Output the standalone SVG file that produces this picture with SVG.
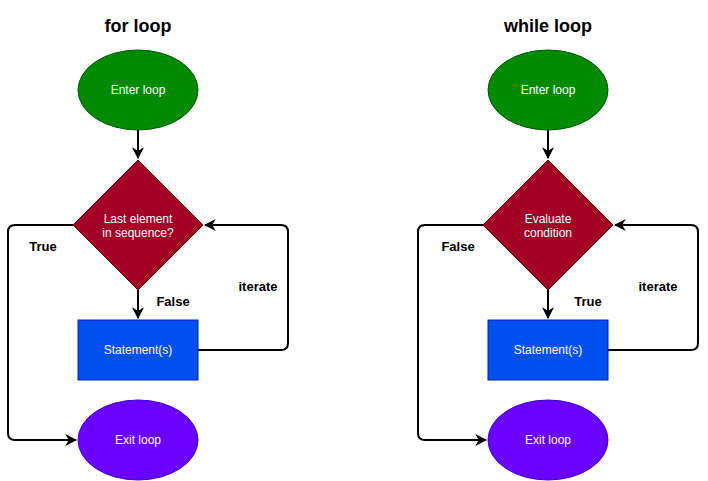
<svg xmlns="http://www.w3.org/2000/svg" width="708" height="481" viewBox="0 0 708 481">
<style>
.t{font-family:"Liberation Sans",Arial,sans-serif;font-size:12px;fill:#fff;text-anchor:middle}
.h{font-family:"Liberation Sans",Arial,sans-serif;font-size:18px;font-weight:bold;fill:#000;text-anchor:middle}
.l{font-family:"Liberation Sans",Arial,sans-serif;font-size:13px;font-weight:bold;fill:#000;text-anchor:middle}
.c{fill:none;stroke:#000;stroke-width:2;stroke-linejoin:round}
.enter{fill:#008a00;stroke:#005700}
.dec{fill:#a20025;stroke:#6f0000}
.st{fill:#0050ef;stroke:#001dbc}
.ex{fill:#6a00ff;stroke:#3700cc}
</style>
<defs>
<marker id="a" viewBox="0 0 10 10" refX="9" refY="5" markerWidth="6" markerHeight="6" orient="auto" markerUnits="strokeWidth">
<path d="M0,0 L10,5 L0,10 L3,5 Z" fill="#000"/>
</marker>
</defs>
<text class="h" x="138" y="32">for loop</text>
<text class="h" x="548" y="32">while loop</text>
<g id="connectors">
<path class="c" d="M138,130 V158" marker-end="url(#a)"/>
<path class="c" d="M138,290 V318" marker-end="url(#a)"/>
<path class="c" d="M198,350 H281 Q288,350 288,343 V232 Q288,225 281,225 H205" marker-end="url(#a)"/>
<path class="c" d="M73,225 H15 Q8,225 8,232 V433 Q8,440 15,440 H76" marker-end="url(#a)"/>
<path class="c" d="M548,130 V158" marker-end="url(#a)"/>
<path class="c" d="M548,290 V318" marker-end="url(#a)"/>
<path class="c" d="M608,350 H691 Q698,350 698,343 V232 Q698,225 691,225 H615" marker-end="url(#a)"/>
<path class="c" d="M483,225 H425 Q418,225 418,232 V433 Q418,440 425,440 H486" marker-end="url(#a)"/>
<text class="l" x="43" y="251">True</text>
<text class="l" x="173" y="306">False</text>
<text class="l" x="258" y="291">iterate</text>
<text class="l" x="458" y="251">False</text>
<text class="l" x="588" y="306">True</text>
<text class="l" x="658" y="291">iterate</text>
</g>
<g id="for-enter"><ellipse class="enter" cx="138" cy="90" rx="60" ry="40"/><text class="t" x="138" y="94">Enter loop</text></g>
<g id="for-decision"><path class="dec" d="M138,160 L203,225 L138,290 L73,225 Z"/><text class="t" x="138" y="223">Last element</text><text class="t" x="138" y="237">in sequence?</text></g>
<g id="for-statement"><rect class="st" x="78" y="320" width="120" height="60"/><text class="t" x="138" y="354">Statement(s)</text></g>
<g id="for-exit"><ellipse class="ex" cx="138" cy="440" rx="60" ry="40"/><text class="t" x="138" y="444">Exit loop</text></g>
<g id="while-enter"><ellipse class="enter" cx="548" cy="90" rx="60" ry="40"/><text class="t" x="548" y="94">Enter loop</text></g>
<g id="while-decision"><path class="dec" d="M548,160 L613,225 L548,290 L483,225 Z"/><text class="t" x="548" y="223">Evaluate</text><text class="t" x="548" y="237">condition</text></g>
<g id="while-statement"><rect class="st" x="488" y="320" width="120" height="60"/><text class="t" x="548" y="354">Statement(s)</text></g>
<g id="while-exit"><ellipse class="ex" cx="548" cy="440" rx="60" ry="40"/><text class="t" x="548" y="444">Exit loop</text></g>
</svg>
